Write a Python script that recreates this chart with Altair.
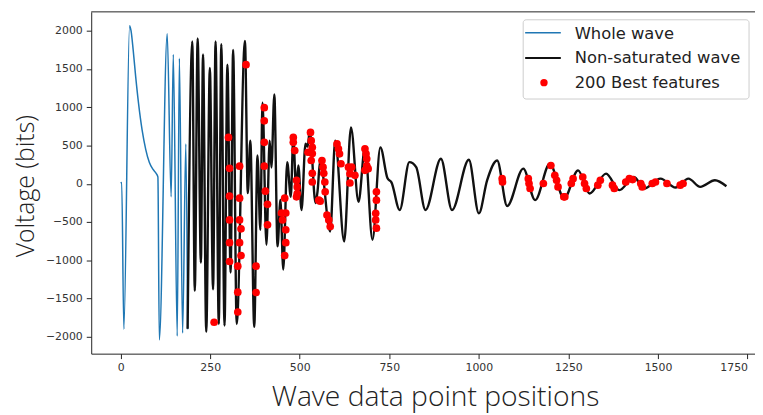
import altair as alt
import pandas as pd

# ---- data ----
blue_x = [0, 3, 9, 25, 29, 35, 42, 50, 60, 70, 80, 90, 100, 104, 108, 130, 141, 147, 158, 164, 173, 182, 187]
blue_y = [10, 15, -1900, 2065, 2000, 1750, 1400, 1050, 700, 450, 280, 190, 130, 90, -2040, 1960, -170, 1690, -1990, 1640, -1950, 520, -1900]

black_x = [187, 200, 207, 215, 224, 230, 239, 249, 258, 265,
           274, 281, 290, 298, 307, 314, 324, 347, 355, 362,
           373, 382, 390, 396, 407, 416, 421, 429, 438, 446,
           454, 465, 475, 482, 490, 496, 505, 516, 522, 528,
           544, 550, 557, 585, 599, 624, 643, 664, 682, 703,
           725, 745, 756, 779, 806, 825, 851, 894, 925, 972,
           1000, 1023, 1051, 1079, 1124, 1157, 1198, 1238, 1277, 1309,
           1355, 1392, 1433, 1461, 1507, 1549, 1585, 1618, 1659, 1691]
black_y = [-1896, 1858, -1400, 1900, -1030, 1689, -1935, 1512, -1379, 1858,
           -1832, 1823, -1854, 1556, -1159, 1750, -1832, 1867, -123, 563,
           -1870, 369, -602, 1059, -796, 563, 213, 1168, -818, -213,
           -1120, 282, -171, 606, -84, 240, -343, 524, 485, 693,
           -252, -84, 304, -624, 563, -753, 735, -236, 476, -731,
           476, 71, 19, -343, 282, 217, -343, 326, -343, 313,
           -386, 45, 304, -291, 197, -214, 261, -192, 175, -127,
           132, -84, 88, -62, 67, -49, 67, -41, 45, -32]

feat_x = [261, 350, 301, 304, 304, 304, 304, 304, 332, 332,
          332, 336, 332, 336, 327, 327, 327, 378, 378, 401,
          401, 401, 401, 404, 410, 410, 449, 452, 458, 461,
          461, 461, 458, 482, 482, 486, 491, 493, 493, 491,
          530, 532, 535, 523, 535, 532, 535, 535, 553, 557,
          562, 565, 567, 570, 571, 576, 581, 585, 604, 608,
          611, 615, 636, 640, 645, 654, 640, 682, 685, 687,
          687, 691, 682, 714, 714, 712, 712, 714, 1065, 1066,
          1138, 1140, 1143, 1180, 1201, 1212, 1217, 1221, 1237, 1240,
          1258, 1263, 1290, 1295, 1300, 1332, 1339, 1373, 1378, 1410,
          1420, 1429, 1452, 1456, 1484, 1493, 1525, 1562, 1570]
feat_y = [-1810, 1556, 606, 201, -162, -473, -770, -1016, 230, -188,
          -473, -589, -770, -938, -1077, -1417, -1676, -1077, -1421, 994,
          822, 541, 230, -97, -269, -537, -382, -473, -188, -382,
          -602, -770, -938, 606, 541, 434, 45, -41, -127, -171,
          671, 563, 476, 412, 395, 304, 136, 23, -214, -227,
          304, 217, 136, 23, -106, -408, -473, -559, 520, 456,
          391, 261, 217, 132, 217, 110, 10, 456, 391, 326,
          239, 197, 175, -106, -214, -386, -473, -580, 67, 23,
          67, 3, -62, 3, 239, 110, 45, -41, -171, -171,
          3, 67, 88, 3, -62, -19, 45, -19, -62, 23,
          67, 54, 3, -41, 3, 23, 3, -19, 3]

x_ticks = [0, 250, 500, 750, 1000, 1250, 1500, 1750]
y_ticks = [-2000, -1500, -1000, -500, 0, 500, 1000, 1500, 2000]
legend_labels = ["Whole wave", "Non-saturated wave", "200 Best features"]

W, H = 670, 345

df_blue = pd.DataFrame({"x": blue_x, "y": blue_y})
df_black = pd.DataFrame({"x": black_x, "y": black_y})
df_feat = pd.DataFrame({"x": feat_x, "y": feat_y})

xs = alt.Scale(domain=[-82.1, 1770.8], nice=False, zero=False)
ys = alt.Scale(domain=[-2220, 2246], nice=False, zero=False)

minus = "replace(datum.label, '-', '\u2212')"
x_axis = alt.Axis(values=x_ticks, format="d", title="Wave data point positions",
                  titleX=347, titleY=52, titleBaseline="alphabetic", titleAlign="center",
                  titleFontSize=28.5, labelExpr=minus, tickSize=5, labelPadding=3,
                  labelFlush=10)
y_axis = alt.Axis(values=y_ticks, format="d", title="Voltage (bits)",
                  titleX=-58, titleY=H / 2 + 3, titleAngle=270, titleBaseline="alphabetic",
                  titleAlign="center", titleFontSize=25, labelExpr=minus, tickSize=5, labelPadding=4)

X = alt.X("x:Q", scale=xs, axis=x_axis)
Y = alt.Y("y:Q", scale=ys, axis=y_axis)

blue = alt.Chart(df_blue).mark_line(color="#1f77b4", strokeWidth=1.5, interpolate="monotone").encode(x=X, y=Y)
black = alt.Chart(df_black).mark_line(color="#111111", strokeWidth=2.4, interpolate="monotone").encode(x=X, y=Y)
feats = alt.Chart(df_feat).mark_circle(color="#ff0000", size=60, opacity=1).encode(x=X, y=Y)

one = alt.Data(values=[{}])
top_border = alt.Chart(one).mark_rule(color="#222222", strokeWidth=1).encode(
    x=alt.value(0), x2=alt.value(W), y=alt.value(0))

leg_box = alt.Chart(one).mark_rect(fill="white", fillOpacity=0.85, stroke="#cccccc",
                                   strokeWidth=1, cornerRadius=3).encode(
    x=alt.value(436), x2=alt.value(664), y=alt.value(8), y2=alt.value(88))
leg_l1 = alt.Chart(one).mark_rule(color="#1f77b4", strokeWidth=1.5).encode(
    x=alt.value(438), x2=alt.value(474), y=alt.value(21))
leg_l2 = alt.Chart(one).mark_rule(color="#111111", strokeWidth=2).encode(
    x=alt.value(438), x2=alt.value(474), y=alt.value(46.5))
leg_pt = alt.Chart(one).mark_circle(color="#ff0000", size=55, opacity=1).encode(
    x=alt.value(457), y=alt.value(71.5))
leg_texts = []
for i, lab in enumerate(legend_labels):
    leg_texts.append(alt.Chart(one).mark_text(text=lab, align="left", baseline="middle",
                                              font="DejaVu Sans", fontSize=16.5, color="#222222").encode(
        x=alt.value(488), y=alt.value(22 + 25 * i)))

chart = alt.layer(blue, black, feats, top_border, leg_box, leg_l1, leg_l2, leg_pt, *leg_texts).properties(
    width=W, height=H,
    autosize=alt.AutoSizeParams(type="none"),
    padding={"left": 84, "top": 2, "right": 0, "bottom": 58},
).configure_view(stroke=None).configure_axis(
    grid=False, domainColor="#222222", tickColor="#222222", labelColor="#333333",
    labelFont="DejaVu Sans", labelFontSize=11, titleFont="Open Sans", titleFontWeight=300,
    titleColor="#222222"
)

chart.save("out.html", embed_options={"renderer": "svg", "actions": False})
